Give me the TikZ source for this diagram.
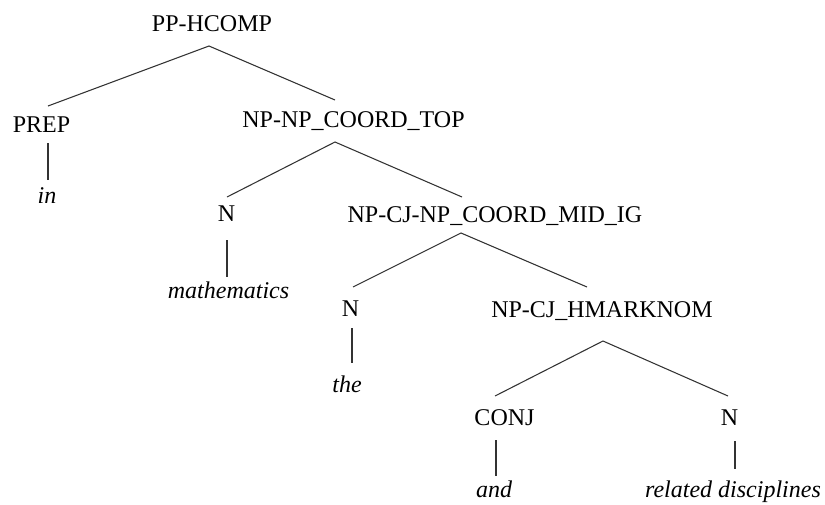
\documentclass[tikz,border=0pt]{standalone}
\usepackage{fontspec}
\setmainfont{Liberation Serif}
\begin{document}
\begin{tikzpicture}[x=0.75pt,y=-0.75pt,
  lab/.style={inner sep=0pt,anchor=base,font=\fontsize{18}{22}\selectfont},
  leaf/.style={lab,font=\fontsize{18}{22}\selectfont\itshape},
  edge/.style={draw=black!80,line width=0.8pt}]
\useasboundingbox (0,0) rectangle (825,504);
% labels
\node[lab] (pp) at (212,31.5) {PP-HCOMP};
\node[lab] (prep) at (41.5,132) {PREP};
\node[leaf] (in) at (47,203) {in};
\node[lab] (npt) at (353.5,127) {NP-NP\_COORD\_TOP};
\node[lab] (n1) at (226.5,221) {N};
\node[leaf] (math) at (228.5,298) {mathematics};
\node[lab] (npmid) at (495,222) {NP-CJ-NP\_COORD\_MID\_IG};
\node[lab] (n2) at (350.5,316) {N};
\node[leaf] (the) at (347,392) {the};
\node[lab] (nphm) at (602,317) {NP-CJ\_HMARKNOM};
\node[lab] (conj) at (504.5,425) {CONJ};
\node[leaf] (and) at (494,497) {and};
\node[lab] (n3) at (729.5,425) {N};
\node[leaf] (rel) at (733,497) {related disciplines};
% attachment points
\coordinate (ppA) at (209,46);
\coordinate (prepT) at (48,106);
\coordinate (nptT) at (335,100);
\coordinate (nptA) at (335,142);
\coordinate (n1T) at (227,197);
\coordinate (npmidT) at (462,197);
\coordinate (npmidA) at (461,233);
\coordinate (n2T) at (353,287);
\coordinate (nphmT) at (587,287);
\coordinate (nphmA) at (603,341);
\coordinate (conjT) at (495,396);
\coordinate (n3T) at (728,396);
\coordinate (prepB) at (48,143);
\coordinate (inT) at (48,180);
\coordinate (n1B) at (227,240);
\coordinate (mathT) at (227,277);
\coordinate (n2B) at (352,328);
\coordinate (theT) at (352,363);
\coordinate (conjB) at (496,440);
\coordinate (andT) at (496,476);
\coordinate (n3B) at (735,441);
\coordinate (relT) at (735,469);
% edges
\draw[edge] (prepT) -- (ppA) -- (nptT);
\draw[edge] (n1T) -- (nptA) -- (npmidT);
\draw[edge] (n2T) -- (npmidA) -- (nphmT);
\draw[edge] (conjT) -- (nphmA) -- (n3T);
\draw[edge] (prepB) -- (inT);
\draw[edge] (n1B) -- (mathT);
\draw[edge] (n2B) -- (theT);
\draw[edge] (conjB) -- (andT);
\draw[edge] (n3B) -- (relT);
\end{tikzpicture}
\end{document}
